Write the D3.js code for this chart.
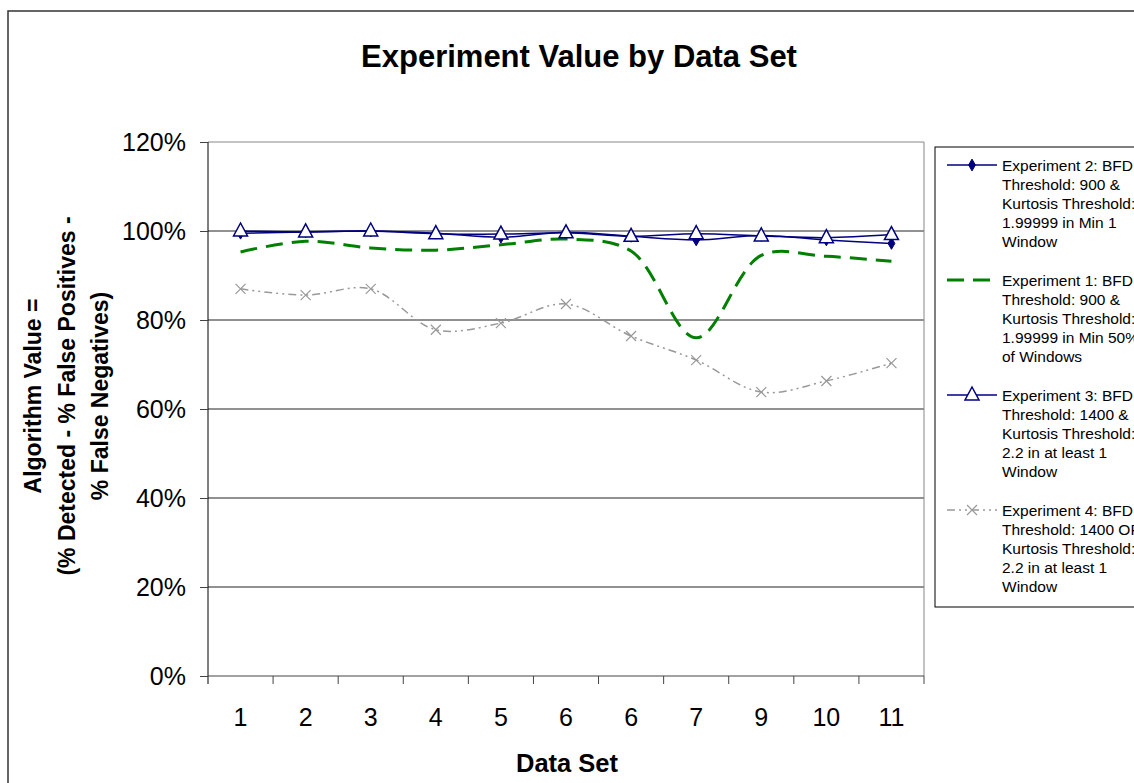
<!DOCTYPE html>
<html lang="en">
<head>
    <meta charset="UTF-8">
    <title>Experiment Value by Data Set</title>
    <script src="https://d3js.org/d3.v7.min.js"></script>
    <style>
        body { margin: 0; background: #fff; }
        svg { font-family: Arial, "Liberation Sans", sans-serif; display: block; }
        .tick text { font-size: 25px; fill: #000; }
        .grid line { stroke: #222; stroke-width: 1; }
        .legend text { font-size: 15.5px; fill: #000; }
    </style>
</head>
<body>
<script>
    const width = 1134, height = 783;
    const plotLeft = 208, plotRight = 924, plotTop = 142, plotBottom = 676;

    const dataSets = ["1", "2", "3", "4", "5", "6", "6b", "7", "9", "10", "11"];
    const dataSetLabels = ["1", "2", "3", "4", "5", "6", "6", "7", "9", "10", "11"];
    const yTicks = [0, 0.2, 0.4, 0.6, 0.8, 1.0, 1.2];

    const exp2 = [0.995, 0.998, 1.0, 0.995, 0.986, 0.997, 0.988, 0.980, 0.990, 0.980, 0.972];
    const exp1 = [0.953, 0.977, 0.962, 0.957, 0.969, 0.982, 0.955, 0.760, 0.945, 0.943, 0.932];
    const exp3 = [1.0, 0.998, 1.0, 0.994, 0.993, 0.996, 0.988, 0.994, 0.989, 0.985, 0.992];
    const exp4 = [0.870, 0.856, 0.870, 0.778, 0.793, 0.836, 0.764, 0.710, 0.638, 0.663, 0.703];

    const legendLabels = [
        ["Experiment 2: BFD", "Threshold: 900 &", "Kurtosis Threshold:", "1.99999 in Min 1", "Window"],
        ["Experiment 1: BFD", "Threshold: 900 &", "Kurtosis Threshold:", "1.99999 in Min 50%", "of Windows"],
        ["Experiment 3: BFD", "Threshold: 1400 &", "Kurtosis Threshold:", "2.2 in at least 1", "Window"],
        ["Experiment 4: BFD", "Threshold: 1400 OR", "Kurtosis Threshold:", "2.2 in at least 1", "Window"]
    ];

    const series = [
        {values: exp2, color: "#000080", width: 1.5, dash: null, marker: "diamond"},
        {values: exp1, color: "#008000", width: 3, dash: "17 9", marker: null},
        {values: exp3, color: "#000080", width: 1.5, dash: null, marker: "triangle"},
        {values: exp4, color: "#999999", width: 1.5, dash: "8 4 2 4 2 4", marker: "x"}
    ];

    const x = d3.scaleBand().domain(dataSets).range([plotLeft, plotRight]);
    const y = d3.scaleLinear().domain([0, 1.2]).range([plotBottom, plotTop]);

    const svg = d3.select("body").append("svg")
        .attr("width", width).attr("height", height);

    // outer chart frame (runs off the right / bottom edge)
    svg.append("rect").attr("x", 8).attr("y", 11)
        .attr("width", 1140).attr("height", 790)
        .attr("fill", "#fff").attr("stroke", "#333").attr("stroke-width", 1.5);

    // gridlines
    svg.append("g").attr("class", "grid")
        .selectAll("line").data(yTicks.slice(1)).join("line")
        .attr("x1", plotLeft).attr("x2", plotRight)
        .attr("y1", d => y(d)).attr("y2", d => y(d))
        .style("stroke", d => d === 1.2 ? "#888" : "#222");

    // right border of plot area
    svg.append("line").attr("x1", plotRight).attr("x2", plotRight)
        .attr("y1", plotTop).attr("y2", plotBottom).attr("stroke", "#888");

    // y axis
    const yAxis = svg.append("g").attr("transform", `translate(${plotLeft},0)`)
        .call(d3.axisLeft(y).tickValues(yTicks).tickFormat(d3.format(".0%"))
            .tickSize(8).tickPadding(14));
    yAxis.select(".domain").attr("d", `M0,${plotTop}V${plotBottom + 8}`).attr("stroke", "#000");
    yAxis.selectAll(".tick line").attr("stroke", "#444");

    // x axis: ticks at category boundaries
    const xAxis = svg.append("g").attr("transform", `translate(0,${plotBottom})`)
        .call(d3.axisBottom(x).tickSize(0).tickPadding(32)
            .tickFormat((d, i) => dataSetLabels[i]));
    xAxis.select(".domain").attr("d", `M${plotLeft},0H${plotRight}`).attr("stroke", "#444");
    xAxis.append("g").selectAll("line").data(dataSets).join("line")
        .attr("x1", d => x(d) + x.bandwidth()).attr("x2", d => x(d) + x.bandwidth())
        .attr("y1", 0).attr("y2", 8).attr("stroke", "#444");

    const cx = (d, i) => x(dataSets[i]) + x.bandwidth() / 2;
    const line = d3.line().x(cx).y(d => y(d)).curve(d3.curveCatmullRom.alpha(0.5));

    function drawMarker(g, type, color) {
        if (type === "diamond") {
            g.append("path").attr("d", d3.symbol(d3.symbolDiamond, 40)())
                .attr("fill", color).attr("stroke", color);
        } else if (type === "triangle") {
            g.append("path").attr("d", "M0,-8L7,5L-7,5Z")
                .attr("fill", "#fff").attr("stroke", color).attr("stroke-width", 1.5);
        } else if (type === "x") {
            g.append("path").attr("d", "M-5,-5L5,5M-5,5L5,-5")
                .attr("stroke", color).attr("stroke-width", 1.2);
        }
    }

    const plot = svg.append("g");
    series.forEach(s => {
        plot.append("path").datum(s.values)
            .attr("d", line).attr("fill", "none")
            .attr("stroke", s.color).attr("stroke-width", s.width)
            .attr("stroke-dasharray", s.dash);
    });
    series.forEach(s => {
        if (!s.marker) return;
        s.values.forEach((v, i) => {
            const g = plot.append("g").attr("transform", `translate(${cx(v, i)},${y(v)})`);
            drawMarker(g, s.marker, s.color);
        });
    });

    // titles
    svg.append("text").attr("x", 579).attr("y", 67)
        .attr("text-anchor", "middle").attr("font-size", 31).attr("font-weight", "bold")
        .text("Experiment Value by Data Set");

    svg.append("text").attr("x", 567).attr("y", 772)
        .attr("text-anchor", "middle").attr("font-size", 25.5).attr("font-weight", "bold")
        .text("Data Set");

    const yTitle = ["Algorithm Value =", "(% Detected - % False Positives -", "% False Negatives)"];
    svg.append("g").attr("transform", "translate(0,396) rotate(-90)")
        .selectAll("text").data(yTitle).join("text")
        .attr("x", 0).attr("y", (d, i) => 41 + i * 33.5)
        .attr("text-anchor", "middle").attr("font-size", 23).attr("font-weight", "bold")
        .text(d => d);

    // legend
    const legend = svg.append("g").attr("class", "legend");
    legend.append("rect").attr("x", 935).attr("y", 147)
        .attr("width", 220).attr("height", 460)
        .attr("fill", "#fff").attr("stroke", "#000").attr("stroke-width", 1);

    series.forEach((s, k) => {
        const y0 = 165 + k * 115;
        const item = legend.append("g");
        item.append("line").attr("x1", 947).attr("x2", 997)
            .attr("y1", y0).attr("y2", y0)
            .attr("stroke", s.color).attr("stroke-width", s.width)
            .attr("stroke-dasharray", s.dash);
        const m = item.append("g").attr("transform", `translate(972,${y0})`);
        drawMarker(m, s.marker, s.color);
        item.selectAll("text").data(legendLabels[k]).join("text")
            .attr("x", 1002).attr("y", (d, i) => y0 + 5.5 + i * 19)
            .text(d => d);
    });
</script>
</body>
</html>
